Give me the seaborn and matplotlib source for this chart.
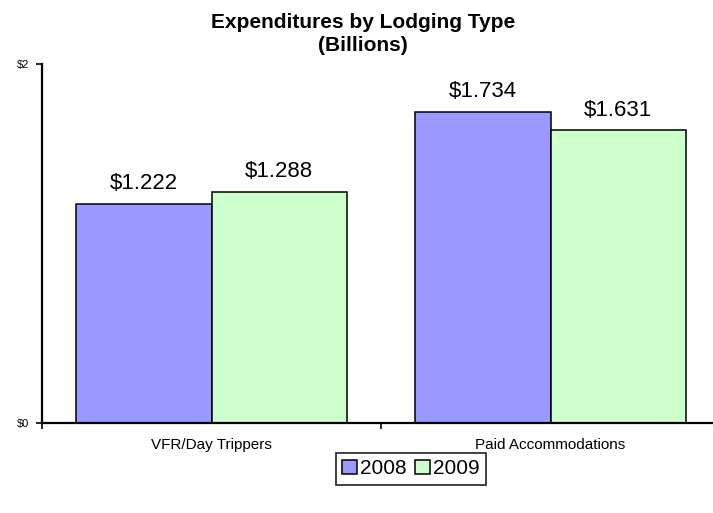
import matplotlib
matplotlib.use("Agg")
import matplotlib.pyplot as plt
import seaborn as sns
import pandas as pd

categories = ["VFR/Day Trippers", "Paid Accommodations"]
years = ["2008", "2009"]
values_2008 = [1.222, 1.734]
values_2009 = [1.288, 1.631]
y_ticks = [0, 2]
y_tick_labels = ["$0", "$2"]
colors = {"2008": "#9999FF", "2009": "#CCFFCC"}

df = pd.DataFrame({
    "category": categories * 2,
    "year": [years[0]] * 2 + [years[1]] * 2,
    "value": values_2008 + values_2009,
})

sns.set_theme(style="white")
plt.rcParams["font.family"] = ["Liberation Sans", "DejaVu Sans"]
plt.rcParams["text.color"] = "black"
plt.rcParams["xtick.color"] = "black"
plt.rcParams["ytick.color"] = "black"

fig = plt.figure(figsize=(7.13, 5.13), dpi=100)
ax = fig.add_axes([42 / 713, 90 / 513, 678 / 713, 359 / 513])

sns.barplot(data=df, x="category", y="value", hue="year", order=categories,
            hue_order=years, palette=colors, saturation=1, edgecolor="black",
            linewidth=1.1, width=0.8, ax=ax, errorbar=None)

for container in ax.containers:
    ax.bar_label(container, labels=[f"${v:.3f}" for v in container.datavalues],
                 padding=7, fontsize=16, color="black")

ax.set_xlim(-0.5, 1.5)
ax.set_ylim(0, 2)
ax.set_yticks(y_ticks)
ax.set_yticklabels(y_tick_labels)
ax.set_xlabel("")
ax.set_ylabel("")

ax.set_xticks([-0.5, 0.5, 1.5], minor=True)
ax.tick_params(axis="x", which="major", length=0, labelsize=11, pad=11,
               labelcolor="black")
ax.tick_params(axis="x", which="minor", direction="out", length=4, width=1.2,
               color="black", bottom=True)
ax.tick_params(axis="y", which="major", direction="out", length=4, width=1.2,
               color="black", left=True, labelsize=8, pad=5, labelcolor="black")

for side in ["top", "right"]:
    ax.spines[side].set_visible(False)
for side in ["left", "bottom"]:
    ax.spines[side].set_color("black")
    ax.spines[side].set_linewidth(1.6)

fig.text(363 / 713, 1 - 34 / 513, "Expenditures by Lodging Type\n(Billions)",
         ha="center", va="center", fontsize=15, fontweight="bold",
         linespacing=1.3, color="black")

handles, labels = ax.get_legend_handles_labels()
ax.get_legend().remove()
leg = fig.legend(handles, labels, loc="upper center",
                 bbox_to_anchor=(411 / 713, 1 - 453 / 513), ncol=2,
                 fontsize=15, frameon=True, fancybox=False,
                 handlelength=0.7, handleheight=0.7, handletextpad=0.15,
                 columnspacing=0.4, borderpad=0.3, borderaxespad=0)
leg.get_frame().set_edgecolor("black")
leg.get_frame().set_linewidth(1.3)

fig.savefig("out.png", dpi=100)
